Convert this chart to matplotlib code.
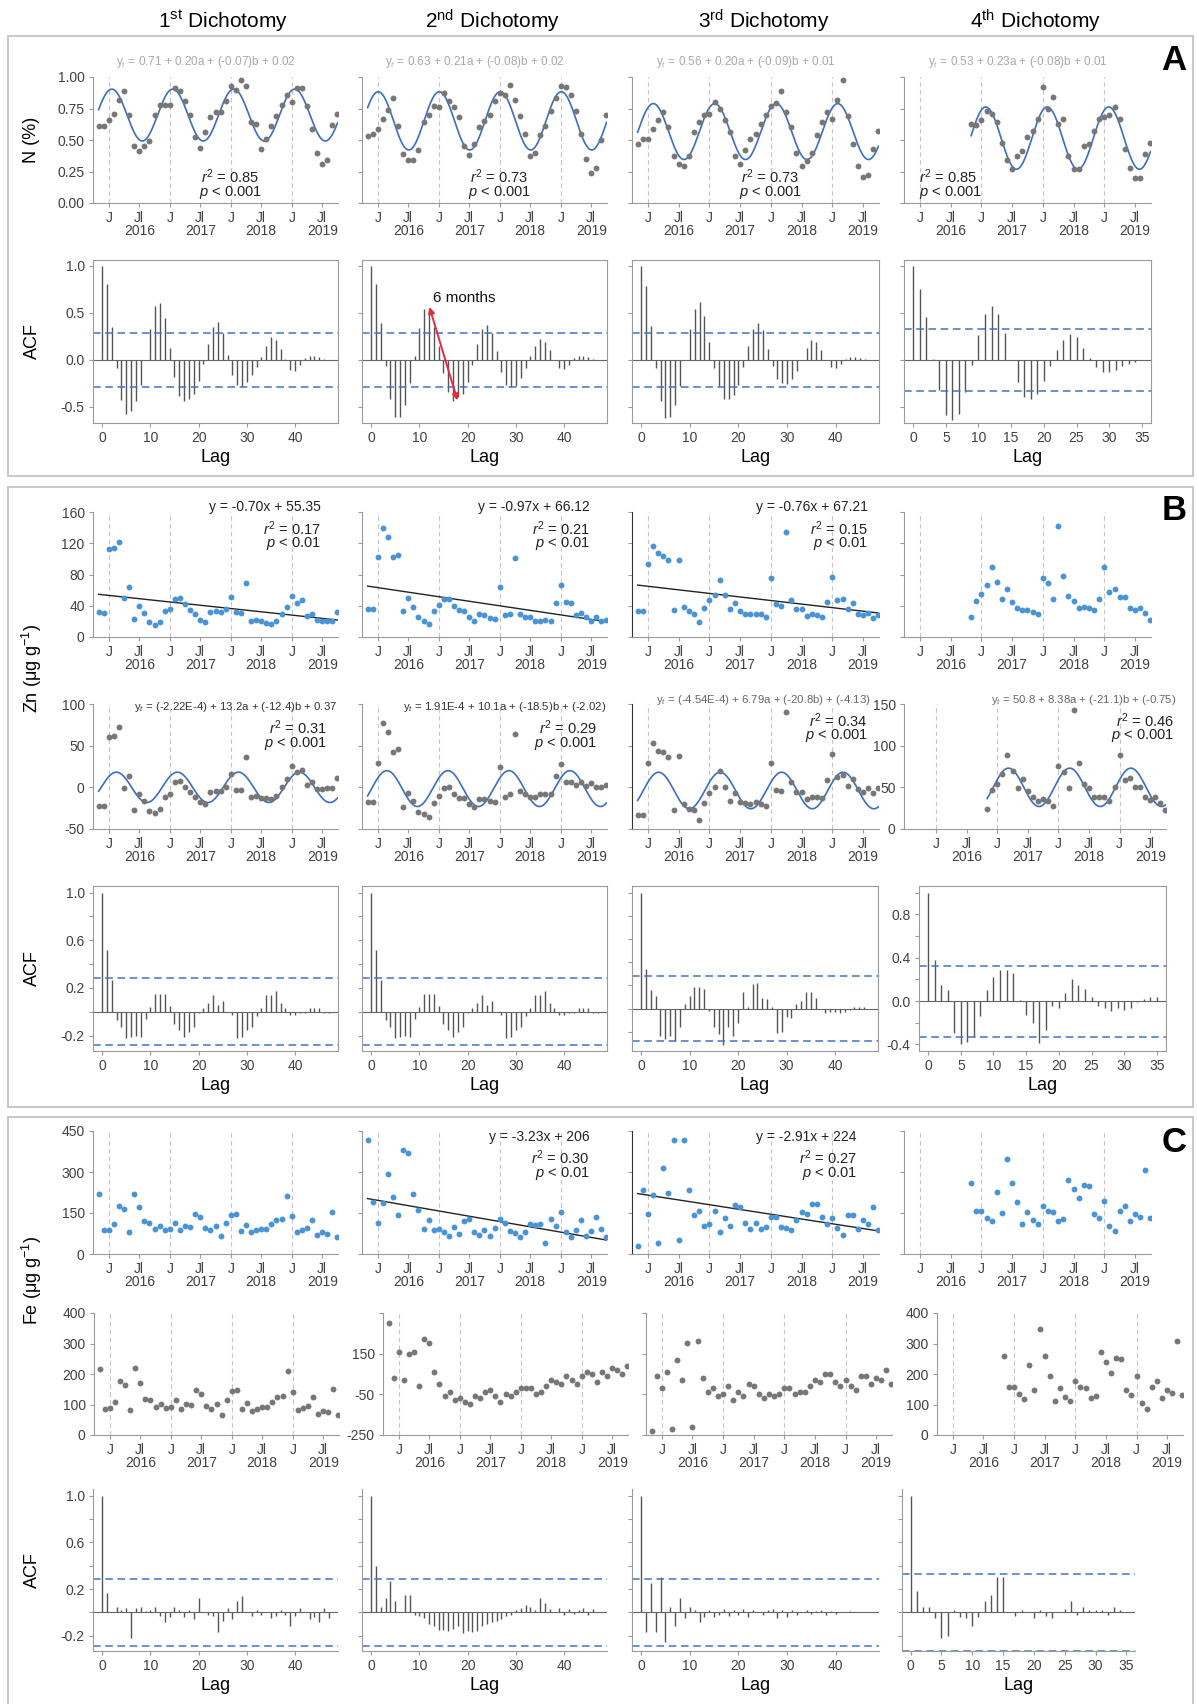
import numpy as np
import matplotlib
matplotlib.use('Agg')
import matplotlib.pyplot as plt
from matplotlib.patches import Rectangle

plt.rcParams['font.family'] = ['Liberation Sans', 'DejaVu Sans']
plt.rcParams['mathtext.fontset'] = 'custom'
plt.rcParams['mathtext.rm'] = 'Liberation Sans'
plt.rcParams['mathtext.it'] = 'Liberation Sans:italic'
plt.rcParams['mathtext.bf'] = 'Liberation Sans:bold'
plt.rcParams['axes.unicode_minus'] = False

W, H = 1197, 1704

# ---------------- data ----------------
# month index, 0 = January 2016
months = np.arange(-2, 46)        # Nov 2015 .. Oct 2019
months_late = np.arange(10, 46)   # Nov 2016 .. Oct 2019 (4th dichotomy)
years = ['2016', '2017', '2018', '2019']
titles = [r'1$^{\rm st}$ Dichotomy', r'2$^{\rm nd}$ Dichotomy',
          r'3$^{\rm rd}$ Dichotomy', r'4$^{\rm th}$ Dichotomy']

# N (%)
n_d1 = [0.61, 0.61, 0.66, 0.71, 0.82, 0.89, 0.70, 0.45, 0.41, 0.45, 0.49, 0.70,
        0.78, 0.78, 0.78, 0.91, 0.89, 0.81, 0.70, 0.52, 0.44, 0.56, 0.68, 0.72,
        0.72, 0.81, 0.93, 0.90, 0.98, 0.93, 0.64, 0.63, 0.43, 0.51, 0.61, 0.69,
        0.78, 0.86, 0.80, 0.91, 0.91, 0.77, 0.59, 0.40, 0.31, 0.34, 0.62, 0.71]
n_d2 = [0.53, 0.55, 0.59, 0.67, 0.74, 0.83, 0.61, 0.39, 0.34, 0.34, 0.42, 0.64,
        0.70, 0.77, 0.76, 0.87, 0.81, 0.76, 0.68, 0.45, 0.38, 0.47, 0.60, 0.65,
        0.70, 0.81, 0.87, 0.86, 0.94, 0.82, 0.69, 0.55, 0.37, 0.40, 0.54, 0.61,
        0.73, 0.83, 0.93, 0.92, 0.86, 0.73, 0.55, 0.35, 0.24, 0.28, 0.50, 0.70]
n_d3 = [0.47, 0.51, 0.51, 0.59, 0.66, 0.72, 0.60, 0.37, 0.31, 0.29, 0.37, 0.56,
        0.64, 0.70, 0.71, 0.80, 0.75, 0.66, 0.56, 0.37, 0.31, 0.42, 0.51, 0.55,
        0.63, 0.70, 0.77, 0.79, 0.89, 0.72, 0.60, 0.40, 0.29, 0.33, 0.40, 0.54,
        0.64, 0.72, 0.67, 0.82, 0.98, 0.69, 0.47, 0.29, 0.21, 0.22, 0.43, 0.57]
n_d4 = [0.63, 0.62, 0.66, 0.73, 0.71, 0.64, 0.48, 0.34, 0.27, 0.37, 0.41, 0.52,
        0.57, 0.67, 0.92, 0.75, 0.84, 0.63, 0.67, 0.37, 0.27, 0.27, 0.45, 0.47,
        0.57, 0.67, 0.68, 0.70, 0.76, 0.67, 0.43, 0.28, 0.20, 0.20, 0.39, 0.48]
n_eq = [r'y$_t$ = 0.71 + 0.20a + (-0.07)b + 0.02', r'y$_t$ = 0.63 + 0.21a + (-0.08)b + 0.02',
        r'y$_t$ = 0.56 + 0.20a + (-0.09)b + 0.01', r'y$_t$ = 0.53 + 0.23a + (-0.08)b + 0.01']
n_r2 = ['0.85', '0.73', '0.73', '0.85']
# fitted harmonic: mean level, amplitude, month of peak
n_fit_mean = [0.698, 0.652, 0.567, 0.515]
n_fit_amp = [0.206, 0.231, 0.222, 0.247]
n_fit_peak = [0.6, 0.1, 1.05, 0.85]

acf_n_d1 = [1.0, 0.80, 0.35, -0.09, -0.43, -0.57, -0.54, -0.44, -0.27, 0.0, 0.33, 0.57,
            0.60, 0.44, 0.13, -0.18, -0.38, -0.44, -0.42, -0.36, -0.22, -0.04, 0.17, 0.35,
            0.40, 0.28, 0.05, -0.16, -0.27, -0.29, -0.24, -0.16, -0.08, 0.03, 0.15, 0.24,
            0.21, 0.12, 0.01, -0.11, -0.12, -0.05, 0.02, 0.04, 0.04, 0.03, 0.01, 0.0]
acf_n_d2 = [1.0, 0.80, 0.39, -0.06, -0.42, -0.61, -0.61, -0.48, -0.25, 0.04, 0.34, 0.54,
            0.55, 0.35, 0.15, -0.14, -0.34, -0.44, -0.39, -0.36, -0.23, -0.05, 0.17, 0.33,
            0.37, 0.28, 0.09, -0.13, -0.27, -0.29, -0.28, -0.19, -0.09, 0.04, 0.15, 0.22,
            0.19, 0.10, 0.0, -0.09, -0.10, -0.05, 0.02, 0.04, 0.04, 0.03, 0.01, 0.0]
acf_n_d3 = [1.0, 0.78, 0.36, -0.09, -0.44, -0.62, -0.61, -0.48, -0.28, 0.0, 0.33, 0.54,
            0.61, 0.47, 0.19, -0.09, -0.28, -0.41, -0.42, -0.37, -0.27, -0.08, 0.15, 0.33,
            0.39, 0.32, 0.12, -0.07, -0.20, -0.25, -0.26, -0.20, -0.12, 0.0, 0.13, 0.21,
            0.19, 0.10, 0.0, -0.08, -0.09, -0.04, 0.01, 0.03, 0.03, 0.02, 0.01, 0.0]
acf_n_d4 = [1.0, 0.75, 0.45, 0.01, -0.32, -0.58, -0.64, -0.57, -0.34, -0.05, 0.26, 0.49,
            0.57, 0.49, 0.28, 0.0, -0.24, -0.39, -0.41, -0.36, -0.22, -0.07, 0.11, 0.21,
            0.27, 0.24, 0.13, 0.02, -0.08, -0.13, -0.13, -0.11, -0.07, -0.04, -0.02, 0.0]

# Zn (ug g-1), raw
zn_d1 = [32, 31, 113, 114, 122, 50, 64, 23, 40, 31, 19, 15, 19, 33, 36, 49, 50, 42, 35, 29,
         22, 19, 32, 33, 32, 36, 51, 32, 31, 69, 21, 22, 20, 18, 17, 20, 30, 38, 53, 44,
         47, 27, 30, 22, 21, 21, 21, 32]
zn_d2 = [36, 36, 103, 140, 128, 103, 105, 33, 50, 39, 26, 21, 17, 33, 41, 49, 49, 40, 35, 33,
         26, 21, 29, 28, 24, 23, 64, 28, 30, 101, 30, 26, 26, 20, 20, 22, 21, 43, 66, 45,
         44, 28, 31, 26, 20, 26, 20, 22]
zn_d3 = [33, 33, 93, 117, 107, 104, 99, 34, 98, 39, 33, 29, 19, 37, 48, 54, 73, 54, 36, 44,
         33, 29, 30, 30, 29, 25, 75, 42, 40, 134, 48, 36, 36, 27, 29, 28, 26, 45, 77, 48,
         49, 36, 43, 30, 28, 31, 24, 28]
zn_d4 = [25, 46, 55, 67, 90, 71, 49, 61, 45, 37, 34, 35, 32, 29, 75, 69, 49, 142, 78, 52,
         46, 37, 39, 37, 34, 49, 89, 58, 62, 51, 51, 37, 34, 37, 31, 22]
zn_trend_slope = [-0.70, -0.97, -0.76]
zn_trend_icpt = [55.35, 66.12, 67.21]
zn_trend_r2 = ['0.17', '0.21', '0.15']

# Zn seasonal component
zns_d1 = [-22, -22, 61, 62, 72, -1, 14, -27, -8, -16, -28, -31, -26, -12, -8, 6, 8, 0, -5, -11,
          -17, -20, -6, -4, -4, 1, 16, -3, -3, 36, -12, -10, -13, -13, -14, -10, 1, 10, 26, 19,
          21, 3, 6, -2, -2, -1, -1, 11]
zns_d2 = [-18, -17, 29, 77, 67, 43, 46, -24, -7, -16, -29, -32, -35, -19, -10, -1, 0, -8, -13, -13,
          -20, -23, -14, -14, -16, -17, 24, -11, -8, 64, -4, -8, -11, -11, -8, -8, -8, 14, 28, 7,
          7, 3, 6, 2, 5, 0, 0, 3]
zns_d3 = [17, 17, 79, 103, 94, 92, 87, 23, 88, 30, 24, 23, 11, 31, 43, 50, 70, 51, 34, 43,
          33, 31, 30, 32, 30, 28, 79, 47, 46, 141, 56, 45, 45, 36, 39, 39, 37, 59, 90, 63,
          65, 52, 60, 48, 45, 49, 43, 49]
zns_d4 = [24, 47, 54, 66, 89, 70, 49, 60, 46, 38, 34, 36, 34, 28, 76, 69, 49, 143, 79, 54,
          49, 38, 38, 38, 34, 51, 89, 59, 61, 51, 51, 38, 35, 38, 31, 23]
zns_eq = [r'y$_t$ = (-2.22E-4) + 13.2a + (-12.4)b + 0.37', r'y$_t$ = 1.91E-4 + 10.1a + (-18.5)b + (-2.02)',
          r'y$_t$ = (-4.54E-4) + 6.79a + (-20.8b) + (-4.13)', r'y$_t$ = 50.8 + 8.38a + (-21.1)b + (-0.75)']
zns_r2 = ['0.31', '0.29', '0.34', '0.46']
zns_fit_mean = [0.0, -1.5, 46.2, 50.0]
zns_fit_amp = [18.2, 21.5, 21.9, 23.0]
zns_fit_peak = [1.5, 1.8, 2.1, 2.2]

acf_zn_d1 = [1.0, 0.52, 0.27, -0.07, -0.13, -0.22, -0.21, -0.20, -0.21, -0.06, 0.04, 0.15,
             0.15, 0.15, 0.05, -0.10, -0.15, -0.21, -0.17, -0.13, -0.01, 0.03, 0.07, 0.14,
             0.06, 0.09, 0.0, -0.03, -0.22, -0.21, -0.15, -0.13, -0.04, 0.03, 0.14, 0.14,
             0.17, 0.07, 0.03, -0.03, -0.03, -0.01, -0.01, 0.03, 0.03, 0.03, -0.01, -0.01]
acf_zn_d2 = [1.0, 0.52, 0.27, -0.07, -0.13, -0.22, -0.21, -0.20, -0.21, -0.06, 0.04, 0.15,
             0.15, 0.15, 0.05, -0.10, -0.15, -0.21, -0.17, -0.13, -0.01, 0.03, 0.07, 0.14,
             0.06, 0.09, 0.0, -0.03, -0.22, -0.21, -0.15, -0.13, -0.04, 0.03, 0.14, 0.14,
             0.17, 0.07, 0.03, -0.03, -0.03, -0.01, -0.01, 0.03, 0.03, 0.03, -0.01, -0.01]
acf_zn_d3 = [1.0, 0.34, 0.16, 0.11, -0.24, -0.26, -0.24, -0.28, -0.16, 0.04, 0.11, 0.19,
             0.19, 0.17, -0.02, -0.16, -0.22, -0.31, -0.16, -0.24, -0.12, 0.14, 0.01, 0.21,
             0.22, 0.09, 0.08, 0.01, -0.21, -0.20, -0.07, -0.08, 0.04, 0.07, 0.14, 0.14,
             0.09, 0.0, -0.04, -0.03, -0.03, -0.04, -0.03, -0.01, 0.01, 0.01, 0.01, 0.0]
acf_zn_d4 = [1.0, 0.38, 0.15, 0.10, -0.29, -0.40, -0.38, -0.33, -0.14, 0.10, 0.22, 0.29,
             0.29, 0.26, 0.01, -0.13, -0.20, -0.39, -0.27, -0.05, -0.06, 0.07, 0.20, 0.15,
             0.11, 0.04, -0.05, -0.06, -0.09, -0.06, -0.08, -0.06, -0.01, 0.02, 0.04, 0.04]

# Fe (ug g-1), raw
fe_d1 = [218, 86, 89, 109, 176, 164, 82, 220, 171, 119, 115, 91, 101, 89, 93, 114, 86, 103, 98, 146,
         135, 95, 86, 103, 66, 115, 143, 146, 85, 106, 80, 86, 91, 92, 109, 125, 129, 211, 140, 82,
         89, 95, 125, 68, 80, 74, 152, 64]
fe_d2 = [418, 192, 115, 186, 291, 207, 141, 380, 368, 220, 161, 92, 123, 86, 91, 80, 67, 98, 74, 121,
         127, 79, 70, 89, 67, 95, 127, 113, 85, 76, 61, 79, 109, 107, 109, 42, 129, 104, 153, 80,
         61, 89, 123, 67, 85, 137, 92, 64]
fe_d3 = [30, 234, 146, 216, 40, 313, 224, 416, 52, 418, 234, 141, 158, 104, 109, 159, 80, 131, 101, 180,
         171, 113, 92, 113, 92, 98, 135, 137, 98, 95, 86, 123, 152, 146, 183, 182, 137, 109, 133, 95,
         70, 141, 141, 92, 125, 109, 171, 86]
fe_d4 = [258, 159, 159, 133, 119, 228, 149, 347, 258, 192, 110, 153, 125, 110, 177, 159, 155, 121, 129, 271,
         238, 204, 251, 250, 146, 131, 194, 104, 85, 159, 177, 121, 146, 137, 309, 131]
fe_trend_slope = [-3.23, -2.91]
fe_trend_icpt = [206, 224]
fe_trend_r2 = ['0.30', '0.27']

# Fe detrended series (2nd and 3rd dichotomy)
fed_d2 = [300, 30, 160, 20, 150, 160, -10, 220, 200, 60, 0, -60, -40, -80, -70, -90, -100, -60, -70, -40,
          -30, -60, -90, -50, -60, -40, -20, -20, -20, -50, -40, -10, 20, 10, 0, 40, 20, 0, 40, 60,
          50, 10, 60, 40, 80, 70, 50, 90]
fed_d3 = [-230, 40, -20, 60, -220, 120, 20, 200, -210, 210, 30, -40, -20, -60, -50, -10, -80, -40, -60, 0,
          -10, -50, -70, -50, -60, -50, -20, -20, -50, -40, -40, -10, 20, 10, 50, 50, 10, -10, 20, -10,
          -30, 40, 40, 0, 30, 20, 70, 0]

acf_fe_d1 = [1.0, 0.17, 0.0, 0.05, 0.02, 0.04, -0.22, 0.04, 0.05, 0.01, 0.02, 0.05,
             -0.03, -0.08, -0.04, 0.05, 0.02, -0.04, 0.02, -0.06, 0.12, 0.0, -0.02, -0.03,
             -0.17, -0.07, 0.04, -0.06, 0.10, 0.14, 0.0, -0.03, 0.02, -0.02, 0.0, -0.05,
             -0.03, 0.02, -0.02, -0.12, -0.03, 0.04, 0.0, -0.06, -0.04, -0.08, 0.04, -0.05]
acf_fe_d2 = [1.0, 0.40, 0.05, 0.12, 0.27, 0.10, 0.0, 0.15, 0.15, -0.02, -0.03, -0.05,
             -0.10, -0.12, -0.15, -0.15, -0.16, -0.14, -0.12, -0.18, -0.16, -0.17, -0.16, -0.12,
             -0.10, -0.08, -0.07, -0.06, -0.03, -0.02, 0.02, 0.04, 0.06, 0.05, 0.02, 0.12,
             0.08, 0.03, 0.0, 0.04, -0.02, 0.03, -0.01, 0.02, 0.04, -0.02, 0.03, 0.0]
acf_fe_d3 = [1.0, -0.17, 0.25, -0.17, 0.30, -0.25, 0.05, -0.12, 0.12, -0.05, 0.05, 0.02,
             -0.08, -0.04, 0.02, -0.04, -0.02, 0.03, -0.03, 0.02, -0.02, 0.03, -0.04, 0.02,
             0.0, -0.02, 0.02, 0.03, -0.05, 0.02, -0.04, 0.02, -0.02, 0.0, 0.02, -0.01,
             0.01, 0.02, -0.02, 0.01, -0.01, 0.0, 0.0, 0.01, 0.0, 0.0, 0.0, 0.0]
acf_fe_d4 = [1.0, 0.18, 0.05, 0.05, -0.05, -0.22, -0.20, 0.02, -0.04, -0.05, -0.12, -0.04,
             0.10, 0.15, 0.30, 0.30, 0.0, -0.03, 0.02, 0.0, -0.05, 0.02, -0.03, -0.05,
             0.0, 0.03, 0.10, -0.02, 0.05, 0.02, 0.02, 0.02, -0.02, 0.05, 0.02, 0.0]

# 95 % bounds of the ACF plots
conf48, conf36 = 0.283, 0.327

# ---------------- layout helpers ----------------
BLUE_PT = '#4a94d6'
GREY_PT = '#777777'
CURVE = '#3d6dbf'
SPINE = '#9a9a9a'
TXT = '#404040'

fig = plt.figure(figsize=(W / 100, H / 100), dpi=100)


def add_ax(x0, x1, y0, y1):
    return fig.add_axes([x0 / W, 1 - y1 / H, (x1 - x0) / W, (y1 - y0) / H])


def style_time(ax, ylim, yticks, labels, xlim=(-3.1, 45.1), dark_left=False):
    ax.set_xlim(*xlim)
    ax.set_ylim(*ylim)
    ax.spines[['top', 'right']].set_visible(False)
    ax.spines[['left', 'bottom']].set_color(SPINE)
    if dark_left:
        ax.spines['left'].set_color('#333333')
    ax.set_xticks(np.arange(0, 48, 6))
    ax.set_xticklabels(['J', 'Jl'] * 4)
    ax.set_yticks(yticks)
    ax.set_yticklabels(labels if labels else [])
    ax.tick_params(length=3, width=0.8, color=SPINE, labelsize=10, labelcolor=TXT, pad=3)
    for t in range(0, 48, 12):
        ax.axvline(t, color='#c4c4c4', lw=0.8, ls=(0, (4, 3)), zorder=0)
    for t, yr in zip(range(6, 48, 12), years):
        ax.annotate(yr, xy=(t, 0), xycoords=('data', 'axes fraction'), xytext=(0, -20),
                    textcoords='offset points', ha='center', va='center', fontsize=10, color=TXT)


def draw_acf(ax, vals, conf, ylim, yticks, labels, xstep=10, box=True):
    lags = np.arange(len(vals))
    ax.vlines(lags, 0, vals, color='#555555', lw=1.0)
    ax.axhline(0, color='#666666', lw=0.8)
    for c in (conf, -conf):
        ax.axhline(c, color='#4472c4', lw=1.1, ls=(0, (5, 3)))
    pad = 0.04 * (len(vals) - 1)
    ax.set_xlim(-pad, len(vals) - 1 + pad)
    ax.set_ylim(*ylim)
    ax.set_xticks(np.arange(0, len(vals), xstep))
    ax.set_yticks(yticks)
    ax.set_yticklabels(labels if labels else [])
    for s in ax.spines.values():
        s.set_color(SPINE)
    if not box:
        ax.spines[['top', 'right']].set_visible(False)
    ax.tick_params(length=3, width=0.8, color=SPINE, labelsize=10, labelcolor=TXT, pad=3)
    ax.set_xlabel('Lag', fontsize=13, labelpad=3)


def harmonic(ax, t0, mean, amp, peak):
    tt = np.linspace(t0, 45, 400)
    ax.plot(tt, mean + amp * np.cos(2 * np.pi * (tt - peak) / 12), color=CURVE, lw=1.2, zorder=2)


def stats_text(ax, x, y, r2, p, ha='center'):
    ax.text(x, y, r'$r^2$ = ' + r2, transform=ax.transAxes, ha=ha, va='center', fontsize=10.5, color='#222222')
    ax.text(x, y - 0.125, r'$p$ < ' + p, transform=ax.transAxes, ha=ha, va='center', fontsize=10.5, color='#222222')


def panel_box(y0, y1):
    fig.add_artist(Rectangle((8 / W, 1 - y1 / H), 1185 / W, (y1 - y0) / H, transform=fig.transFigure,
                             fill=False, ec='#c4c4c4', lw=1.3))


cols = [(93, 338), (362, 607), (632, 879), (904, 1151)]

# ---------------- titles, boxes ----------------
for (x0, x1), ttl in zip(cols, titles):
    fig.text(((x0 + x1) / 2 + 8) / W, 1 - 21 / H, ttl, ha='center', va='center', fontsize=15)
panel_box(36, 476)
panel_box(487, 1107)
panel_box(1117, 1712)
for lab, yc in zip(['A', 'B', 'C'], [60, 511, 1143]):
    fig.text(1174 / W, 1 - yc / H, lab, ha='center', va='center', fontsize=25, fontweight='bold')

# ---------------- Panel A ----------------
n_vals = [n_d1, n_d2, n_d3, n_d4]
for i, (x0, x1) in enumerate(cols):
    ax = add_ax(x0, x1, 77, 203)
    t = months_late if i == 3 else months
    style_time(ax, (0, 1.0), [0, 0.25, 0.5, 0.75, 1.0],
               ['0.00', '0.25', '0.50', '0.75', '1.00'] if i == 0 else None)
    harmonic(ax, t[0], n_fit_mean[i], n_fit_amp[i], n_fit_peak[i])
    ax.scatter(t, n_vals[i], s=18, color=GREY_PT, zorder=3, lw=0)
    ax.text(0.46, 1.12, n_eq[i], transform=ax.transAxes, ha='center', va='center', fontsize=8.5, color='#a8a8a8')
    if i == 3:
        stats_text(ax, 0.06, 0.21, n_r2[i], '0.001', ha='left')
    else:
        stats_text(ax, 0.56, 0.21, n_r2[i], '0.001')

acf_n = [acf_n_d1, acf_n_d2, acf_n_d3, acf_n_d4]
for i, (x0, x1) in enumerate(cols):
    ax = add_ax(x0, x1, 260, 423)
    draw_acf(ax, acf_n[i], conf36 if i == 3 else conf48, (-0.67, 1.06), [-0.5, 0, 0.5, 1.0],
             ['-0.5', '0.0', '0.5', '1.0'] if i == 0 else None, xstep=5 if i == 3 else 10)
    if i == 1:
        ax.annotate('', xy=(12.1, 0.56), xytext=(17.9, -0.43),
                    arrowprops=dict(arrowstyle='<|-|>', color='#e8283c', lw=1.4, mutation_scale=9,
                                    shrinkA=0, shrinkB=0))
        ax.text(12.8, 0.66, '6 months', ha='left', va='center', fontsize=11, color='#111111')

fig.text(32 / W, 1 - 140 / H, 'N (%)', rotation=90, ha='center', va='center', fontsize=13)
fig.text(32 / W, 1 - 341 / H, 'ACF', rotation=90, ha='center', va='center', fontsize=13)

# ---------------- Panel B ----------------
zn_vals = [zn_d1, zn_d2, zn_d3, zn_d4]
for i, (x0, x1) in enumerate(cols):
    ax = add_ax(x0, x1, 512, 637)
    t = months_late if i == 3 else months
    style_time(ax, (0, 160), [0, 40, 80, 120, 160],
               ['0', '40', '80', '120', '160'] if i == 0 else None, dark_left=(i == 2))
    ax.scatter(t, zn_vals[i], s=18, color=BLUE_PT, zorder=3, lw=0)
    if i < 3:
        idx = np.arange(1, len(t) + 1)
        ax.plot(t, zn_trend_slope[i] * idx + zn_trend_icpt[i], color='#222222', lw=1.0, zorder=2)
        xr = 0.955 if i == 2 else 0.93
        ax.text(xr, 1.04, 'y = %.2fx + %.2f' % (zn_trend_slope[i], zn_trend_icpt[i]),
                transform=ax.transAxes, ha='right', va='center', fontsize=10, color='#222222')
        stats_text(ax, xr, 0.87, zn_trend_r2[i], '0.01', ha='right')

zns_vals = [zns_d1, zns_d2, zns_d3, zns_d4]
b2_x = [(93, 338), (362, 607), (632, 879), (904, 1166)]
for i, (x0, x1) in enumerate(b2_x):
    ax = add_ax(x0, x1, 704, 829)
    t = months_late if i == 3 else months
    if i < 2:
        style_time(ax, (-50, 100), [-50, 0, 50, 100],
                   ['-50', '0', '50', '100'] if i == 0 else None)
    else:
        style_time(ax, (0, 150), [0, 50, 100, 150],
                   ['0', '50', '100', '150'] if i == 3 else None, dark_left=(i == 2),
                   xlim=(-6.3, 45.1) if i == 3 else (-3.1, 45.1))
    harmonic(ax, t[0], zns_fit_mean[i], zns_fit_amp[i], zns_fit_peak[i])
    ax.scatter(t, zns_vals[i], s=18, color=GREY_PT, zorder=3, lw=0)
    xr = [0.995, 0.995, 0.965, 1.04][i]
    ey = 0.98 if i < 2 else 1.035
    ax.text(xr, ey, zns_eq[i], transform=ax.transAxes, ha='right', va='center', fontsize=8.2,
            color='#333333' if i < 2 else '#666666')
    sy = 0.81 if i < 2 else 0.87
    sx = [0.955, 0.96, 0.955, 1.03][i]
    stats_text(ax, sx, sy, zns_r2[i], '0.001', ha='right')

acf_zn = [acf_zn_d1, acf_zn_d2, acf_zn_d3, acf_zn_d4]
b3_x = [(93, 338), (362, 607), (632, 878), (919, 1166)]
b3_ticks = list(np.round(np.arange(-0.2, 1.01, 0.2), 1))
for i, (x0, x1) in enumerate(b3_x):
    ax = add_ax(x0, x1, 886, 1051)
    if i < 2:
        draw_acf(ax, acf_zn[i], conf48, (-0.33, 1.056), b3_ticks,
                 ['-0.2', '', '0.2', '', '0.6', '', '1.0'] if i == 0 else None)
    elif i == 2:
        draw_acf(ax, acf_zn[i], conf48, (-0.365, 1.057), b3_ticks, None)
    else:
        draw_acf(ax, acf_zn[i], conf36, (-0.46, 1.06), list(np.round(np.arange(-0.4, 1.01, 0.2), 1)),
                 ['-0.4', '', '0.0', '', '0.4', '', '0.8', ''], xstep=5)

fig.text(32 / W, 1 - 668 / H, r'Zn (μg g$^{-1}$)', rotation=90, ha='center', va='center', fontsize=13)
fig.text(32 / W, 1 - 968 / H, 'ACF', rotation=90, ha='center', va='center', fontsize=13)

# ---------------- Panel C ----------------
fe_vals = [fe_d1, fe_d2, fe_d3, fe_d4]
for i, (x0, x1) in enumerate(cols):
    ax = add_ax(x0, x1, 1131, 1254)
    t = months_late if i == 3 else months
    style_time(ax, (0, 450), [0, 150, 300, 450],
               ['0', '150', '300', '450'] if i == 0 else None, dark_left=(i == 2))
    ax.scatter(t, fe_vals[i], s=18, color=BLUE_PT, zorder=3, lw=0)
    if i in (1, 2):
        k = i - 1
        idx = np.arange(1, len(t) + 1)
        ax.plot(t, fe_trend_slope[k] * idx + fe_trend_icpt[k], color='#222222', lw=1.0, zorder=2)
        xr = 0.93 if i == 1 else 0.91
        ax.text(xr, 0.95, 'y = %.2fx + %d' % (fe_trend_slope[k], fe_trend_icpt[k]),
                transform=ax.transAxes, ha='right', va='center', fontsize=10, color='#222222')
        stats_text(ax, xr, 0.78, fe_trend_r2[k], '0.01', ha='right')

c2_x = [(94, 339), (383, 628), (646, 892), (937, 1183)]
c2_vals = [fe_d1, fed_d2, fed_d3, fe_d4]
for i, (x0, x1) in enumerate(c2_x):
    ax = add_ax(x0, x1, 1313, 1435)
    t = months_late if i == 3 else months
    if i in (0, 3):
        style_time(ax, (0, 400), [0, 100, 200, 300, 400], ['0', '100', '200', '300', '400'])
    else:
        style_time(ax, (-250, 350), [-250, -50, 150, 350],
                   ['-250', '-50', '150', ''] if i == 1 else None)
    ax.scatter(t, c2_vals[i], s=18, color=GREY_PT, zorder=3, lw=0)

acf_fe = [acf_fe_d1, acf_fe_d2, acf_fe_d3, acf_fe_d4]
c3_x = [(93, 338), (362, 607), (632, 879), (902, 1135)]
for i, (x0, x1) in enumerate(c3_x):
    ax = add_ax(x0, x1, 1489, 1651)
    draw_acf(ax, acf_fe[i], conf36 if i == 3 else conf48, (-0.33, 1.056), b3_ticks,
             ['-0.2', '', '0.2', '', '0.6', '', '1.0'] if i == 0 else None,
             xstep=5 if i == 3 else 10, box=False)

fig.text(32 / W, 1 - 1280 / H, r'Fe (μg g$^{-1}$)', rotation=90, ha='center', va='center', fontsize=13)
fig.text(32 / W, 1 - 1570 / H, 'ACF', rotation=90, ha='center', va='center', fontsize=13)

fig.savefig('out.png', dpi=100, facecolor='white')
